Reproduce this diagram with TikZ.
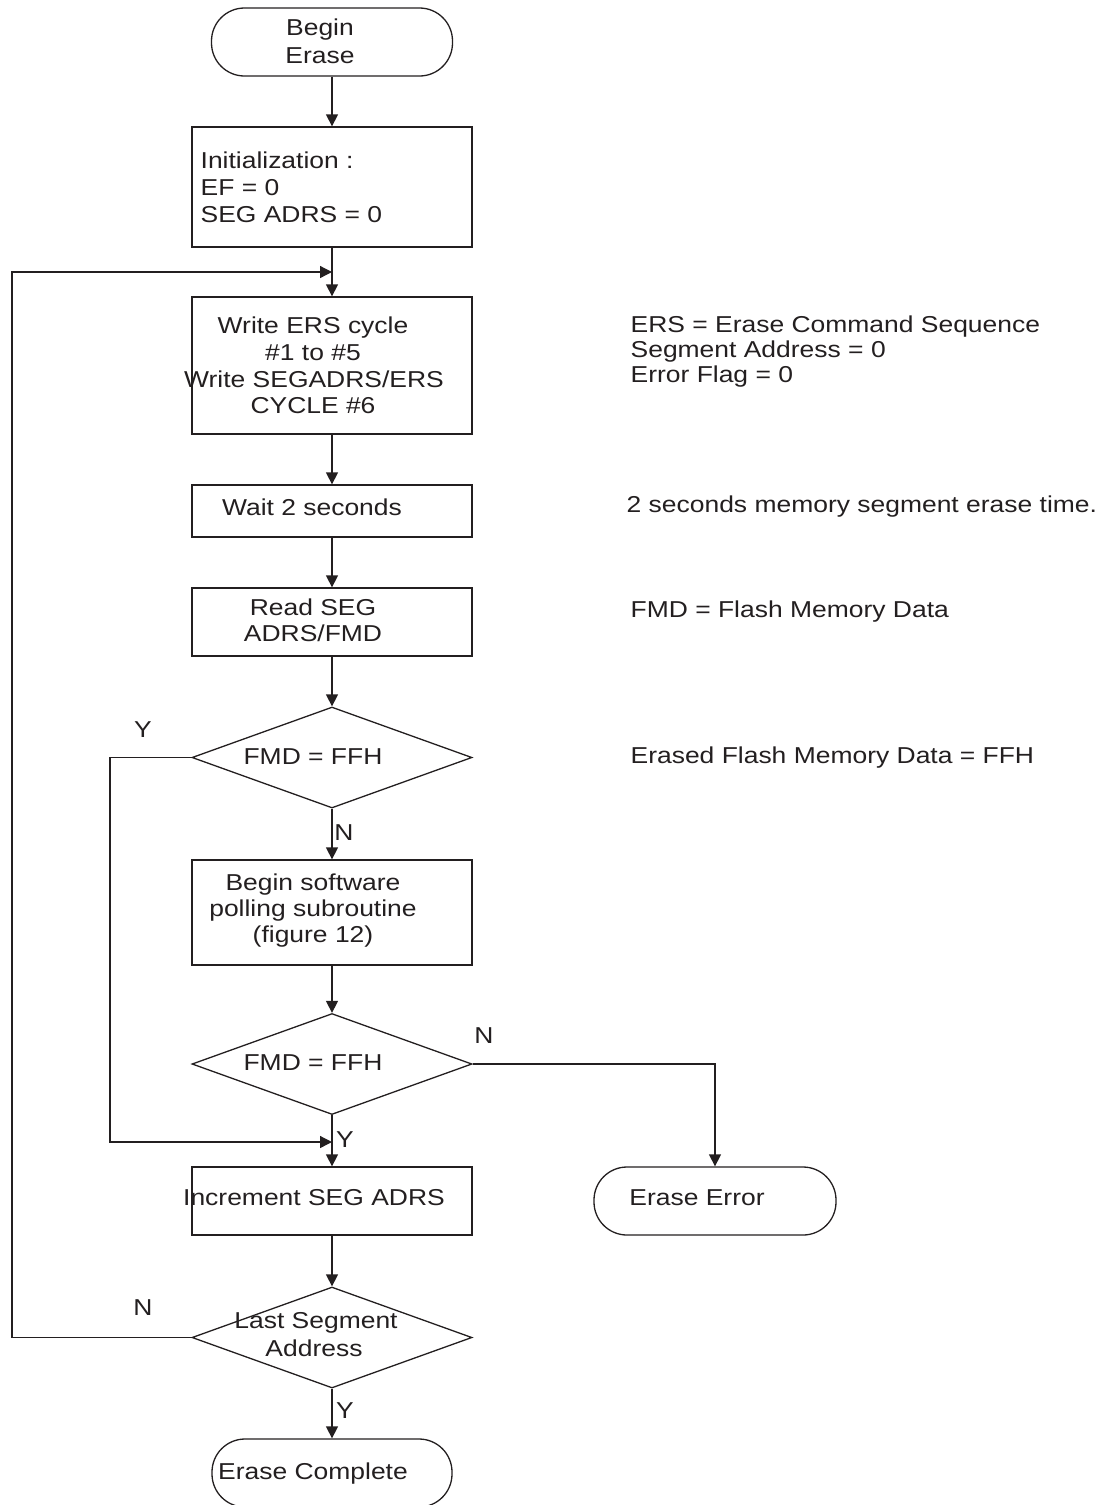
\documentclass[tikz,border=0pt]{standalone}
\usepackage{fontspec}
\setmainfont[FakeStretch=1.15]{Liberation Sans}
\usetikzlibrary{shapes.geometric,arrows.meta}
\definecolor{ink}{HTML}{231F20}
\begin{document}
\begin{tikzpicture}[x=1pt,y=-1pt,line width=1.3pt,draw=ink,text=ink,
  font=\fontsize{23}{27}\selectfont,
  procbox/.style={draw,rectangle,minimum width=280pt,inner sep=0pt},
  term/.style={draw,rectangle,rounded corners=33pt,minimum width=241pt,minimum height=68pt,inner sep=0pt},
  decide/.style={draw,diamond,minimum width=280pt,minimum height=101pt,inner sep=0pt},
  flow/.style={-{Triangle[length=12pt,width=12pt]}},
  lbl/.style={inner sep=0pt,anchor=base},
  lbll/.style={inner sep=0pt,anchor=base west}]
\useasboundingbox (0,0) rectangle (1099,1505);
\clip (0,0) rectangle (1099,1505);

% flowchart shapes
\node[term] (begin) at (332,42) {};
\node[procbox,minimum height=120pt] (init) at (332,187) {};
\node[procbox,minimum height=137pt] (write) at (332,365.5) {};
\node[procbox,minimum height=52pt] (wait) at (332,511) {};
\node[procbox,minimum height=68pt] (read) at (332,622) {};
\node[decide] (dec1) at (332,757.5) {};
\node[procbox,minimum height=105pt] (poll) at (332,912.5) {};
\node[decide] (dec2) at (332,1064) {};
\node[procbox,minimum height=68pt] (incr) at (332,1201) {};
\node[term,minimum width=242pt] (err) at (715,1201) {};
\node[decide] (dec3) at (332,1337.5) {};
\node[term,minimum width=240pt] (done) at (332,1473) {};

% texts inside the shapes
\node[lbl] (tb1) at (320,35) {Begin};
\node[lbl] (tb2) at (320,63) {Erase};
\node[lbll] (ti1) at (200,168) {Initialization :};
\node[lbll] (ti2) at (200,195) {EF = 0};
\node[lbll] (ti3) at (200,222) {SEG ADRS = 0};
\node[lbl] (tw1) at (313,333) {Write ERS cycle};
\node[lbl] (tw2) at (313,360) {\#1 to \#5};
\node[lbl] (tw3) at (314,387) {Write SEGADRS/ERS};
\node[lbl] (tw4) at (313,413) {CYCLE \#6};
\node[lbl] (tt1) at (312,515) {Wait 2 seconds};
\node[lbl] (tr1) at (313,615) {Read SEG};
\node[lbl] (tr2) at (313,641) {ADRS/FMD};
\node[lbl] (td1) at (313,764) {FMD = FFH};
\node[lbl] (tp1) at (313,890) {Begin software};
\node[lbl] (tp2) at (313,916) {polling subroutine};
\node[lbl] (tp3) at (313,942) {(figure 12)};
\node[lbl] (td2) at (313,1070) {FMD = FFH};
\node[lbl] (tn1) at (314,1205) {Increment SEG ADRS};
\node[lbl] (te1) at (697,1205) {Erase Error};
\node[lbl] (td3a) at (316,1328) {Last Segment};
\node[lbl] (td3b) at (314,1356) {Address};
\node[lbl] (tc1) at (313,1479) {Erase Complete};

% branch labels
\node[lbl] (y1) at (143,737) {Y};
\node[lbl] (n1) at (344,840) {N};
\node[lbl] (n2) at (484,1043) {N};
\node[lbl] (y2) at (345,1147) {Y};
\node[lbl] (n3) at (143,1315) {N};
\node[lbl] (y3) at (345,1418) {Y};

% notes on the right
\node[lbll] (c1) at (630,332) {ERS = Erase Command Sequence};
\node[lbll] (c2) at (630,357) {Segment Address = 0};
\node[lbll] (c3) at (630,382) {Error Flag = 0};
\node[lbll] (c4) at (626,512) {2 seconds memory segment erase time.};
\node[lbll] (c5) at (630,617) {FMD = Flash Memory Data};
\node[lbll] (c6) at (630,763) {Erased Flash Memory Data = FFH};

% junction points
\coordinate (jtop) at (332,272);
\coordinate (jbot) at (332,1142);
\coordinate (loopA) at (12,1337.5);
\coordinate (yesA) at (110,757.5);

% connectors
\draw[flow] (begin) -- (init);
\draw[flow] (init) -- (write);
\draw[flow] (write) -- (wait);
\draw[flow] (wait) -- (read);
\draw[flow] (read) -- (dec1);
\draw[flow] (dec1) -- (poll);
\draw[flow] (poll) -- (dec2);
\draw[flow] (dec2) -- (incr);
\draw[flow] (incr) -- (dec3);
\draw[flow] (dec3) -- (done);
\draw[flow] (dec2.east) -| (err.north);
\draw[flow] (dec1.west) -- (yesA) |- (jbot);
\draw[flow] (dec3.west) -- (loopA) |- (jtop);
\end{tikzpicture}
\end{document}
